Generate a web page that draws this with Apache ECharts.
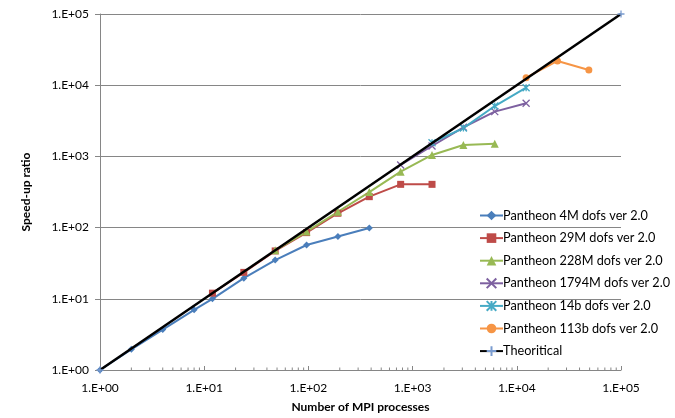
<!DOCTYPE html>
<html>
<head>
<meta charset="utf-8">
<script src="https://cdn.jsdelivr.net/npm/echarts@6/dist/echarts.min.js"></script>
<style>
  html, body { margin: 0; padding: 0; background: #fff; }
  #chart { width: 675px; height: 418px; }
</style>
</head>
<body>
<div id="chart"></div>
<script>
// values: [processes, speed-up]
const s4M = [[1, 1], [2, 1.95], [4, 3.7], [8, 7], [12, 10], [24, 19.5], [48, 35], [96, 57], [192, 75], [384, 99]];
const s29M = [[12, 12], [24, 23.5], [48, 47], [96, 85], [192, 159], [384, 272], [768, 405], [1536, 405]];
const s228M = [[48, 48], [96, 88], [192, 167], [384, 315], [768, 610], [1536, 1047], [3072, 1445], [6144, 1500]];
const s1794M = [[768, 757], [1536, 1400], [3072, 2565], [6144, 4250], [12288, 5570]];
const s14b = [[1536, 1556], [3072, 2500], [6144, 5100], [12288, 9220]];
const s113b = [[12288, 12740], [24576, 21880], [49152, 16350]];
const theory = [[1, 1], [100000, 100000]];
const minorTickValues = [2, 3, 4, 5, 6, 7, 8, 9, 20, 30, 40, 50, 60, 70, 80, 90, 200, 300, 400, 500, 600, 700, 800, 900,
  2000, 3000, 4000, 5000, 6000, 7000, 8000, 9000, 20000, 30000, 40000, 50000, 60000, 70000, 80000, 90000];
const seriesNames = ["Pantheon 4M dofs ver 2.0", "Pantheon 29M dofs ver 2.0", "Pantheon 228M dofs ver 2.0",
  "Pantheon 1794M dofs ver 2.0", "Pantheon 14b dofs ver 2.0", "Pantheon 113b dofs ver 2.0", "Theoritical"];

const FONT = "Lato";
const AXIS_GRAY = "#868686";

const expLabel = (v) => {
  const e = Math.round(Math.log10(v));
  return "1.E+" + (e < 10 ? "0" : "") + e;
};

const lineSeries = (name, data, color, symbol, size) => ({
  name,
  type: "line",
  data,
  symbol,
  symbolSize: size,
  lineStyle: { color, width: 2 },
  itemStyle: { color, borderColor: color, borderWidth: symbol.startsWith("path") ? 1.3 : 0 },
  emphasis: { disabled: true },
  z: 3
});

const chart = echarts.init(document.getElementById("chart"));
const option = {
  animation: false,
  textStyle: { fontFamily: FONT },
  grid: { left: 100, right: 54, top: 14, bottom: 48 },
  legend: {
    data: seriesNames,
    orient: "vertical",
    left: 474,
    top: 204,
    itemWidth: 23,
    itemHeight: 12,
    itemGap: 9.6,
    textStyle: { fontFamily: FONT, fontSize: 12.7, color: "#000", padding: [0, 0, 0, -5] }
  },
  xAxis: {
    type: "log",
    logBase: 10,
    min: 1,
    max: 100000,
    name: "Number of MPI processes",
    nameLocation: "middle",
    nameGap: 31,
    nameTextStyle: { fontFamily: FONT, fontWeight: "bold", fontSize: 12, color: "#000" },
    axisLine: { lineStyle: { color: AXIS_GRAY, width: 1 } },
    axisTick: { inside: true, length: 4, lineStyle: { color: AXIS_GRAY } },
    axisLabel: { formatter: expLabel, fontFamily: FONT, fontSize: 12, color: "#000", margin: 12 },
    splitLine: { show: false }
  },
  yAxis: {
    type: "log",
    logBase: 10,
    min: 1,
    max: 100000,
    name: "Speed-up ratio",
    nameLocation: "middle",
    nameGap: 68,
    nameTextStyle: { fontFamily: FONT, fontWeight: "bold", fontSize: 12, color: "#000" },
    axisLine: { show: true, lineStyle: { color: AXIS_GRAY, width: 1 } },
    axisTick: { show: true, inside: false, length: 5, lineStyle: { color: AXIS_GRAY } },
    axisLabel: { formatter: expLabel, fontFamily: FONT, fontSize: 12, color: "#000", margin: 11 },
    splitLine: { show: true, lineStyle: { color: AXIS_GRAY, width: 1 } }
  },
  series: [
    lineSeries(seriesNames[0], s4M, "#4A7EBB", "diamond", 7),
    lineSeries(seriesNames[1], s29M, "#BE4B48", "rect", 7),
    lineSeries(seriesNames[2], s228M, "#98B954", "triangle", 8),
    lineSeries(seriesNames[3], s1794M, "#7D60A0", "path://M0,0L10,10M10,0L0,10", 7),
    lineSeries(seriesNames[4], s14b, "#46AAC5", "path://M0,0L10,10M10,0L0,10M5,0L5,10", 7),
    lineSeries(seriesNames[5], s113b, "#F69545", "circle", 7),
    {
      name: seriesNames[6],
      type: "line",
      data: theory,
      symbol: "path://M0,5L10,5M5,0L5,10",
      symbolSize: 7,
      lineStyle: { color: "#000", width: 2.5 },
      itemStyle: { color: "#7A9CD0", borderColor: "#7A9CD0", borderWidth: 1.3 },
      emphasis: { disabled: true },
      z: 4
    },
    {
      // log minor ticks on the x axis
      type: "custom",
      silent: true,
      data: minorTickValues,
      encode: { x: 0 },
      renderItem: (params, api) => {
        const p = api.coord([api.value(0), 1]);
        return {
          type: "line",
          shape: { x1: p[0], y1: p[1], x2: p[0], y2: p[1] - 2.5 },
          style: { stroke: AXIS_GRAY, lineWidth: 1 }
        };
      },
      z: 1
    }
  ]
};
chart.setOption(option);
</script>
</body>
</html>
